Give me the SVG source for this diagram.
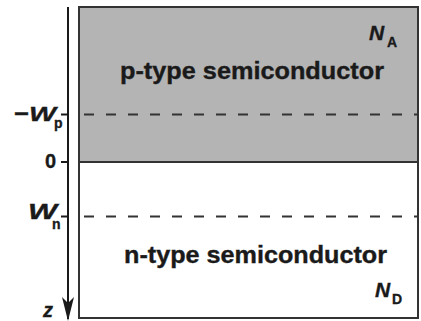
<svg xmlns="http://www.w3.org/2000/svg" width="421" height="321" viewBox="0 0 421 321">
  <style>
    .lbl { font-family: "Liberation Sans", Arial, sans-serif; font-weight: bold; fill: #1a1a1a; stroke: #1a1a1a; stroke-width: 0.35; }
    .it { font-style: italic; }
    .dash { stroke: #333; stroke-width: 2; stroke-dasharray: 10 12; fill: none; }
    .tick { stroke: #1a1a1a; stroke-width: 2; }
  </style>
  <defs>
    <marker id="arrow" markerWidth="24" markerHeight="12" refX="22" refY="6" orient="auto" markerUnits="userSpaceOnUse" viewBox="0 0 24 12">
      <path d="M0,0 L6,6 L0,12 L24,6 Z" fill="#1a1a1a"/>
    </marker>
  </defs>
  <rect width="421" height="321" fill="#fff"/>

  <!-- p-type region -->
  <g id="p-region">
    <rect x="79" y="7" width="339" height="155" fill="#b4b4b4"/>
    <text class="lbl" x="252" y="79" font-size="23" text-anchor="middle" textLength="264" lengthAdjust="spacingAndGlyphs">p-type semiconductor</text>
    <text class="lbl it" x="369" y="40" font-size="21">N</text>
    <text class="lbl" x="387" y="47" font-size="14">A</text>
  </g>

  <!-- n-type region -->
  <g id="n-region">
    <rect x="79" y="162" width="339" height="156" fill="#fff"/>
    <text class="lbl" x="255.5" y="263" font-size="23" text-anchor="middle" textLength="263" lengthAdjust="spacingAndGlyphs">n-type semiconductor</text>
    <text class="lbl it" x="375" y="297" font-size="21">N</text>
    <text class="lbl" x="392" y="304" font-size="14">D</text>
  </g>

  <!-- outline and junction -->
  <g id="outline">
    <rect x="79" y="7" width="339" height="311" fill="none" stroke="#333" stroke-width="2"/>
    <line x1="79" y1="162" x2="418" y2="162" stroke="#333" stroke-width="2"/>
  </g>

  <!-- depletion edges, axis and ticks -->
  <g id="connectors">
    <line class="dash" x1="84" y1="114.5" x2="418" y2="114.5"/>
    <line class="dash" x1="84" y1="216.5" x2="418" y2="216.5"/>
    <line x1="68" y1="7" x2="68" y2="319" stroke="#1a1a1a" stroke-width="2" marker-end="url(#arrow)"/>
    <line class="tick" x1="61" y1="114.5" x2="68" y2="114.5"/>
    <line class="tick" x1="61" y1="162" x2="68" y2="162"/>
    <line class="tick" x1="61" y1="216.5" x2="68" y2="216.5"/>
  </g>

  <!-- axis labels -->
  <g id="axis-labels">
    <text class="lbl" x="14" y="121" font-size="22" textLength="15" lengthAdjust="spacingAndGlyphs">−</text>
    <text class="lbl it" x="29" y="121" font-size="21" textLength="27" lengthAdjust="spacingAndGlyphs">W</text>
    <text class="lbl" x="54" y="128" font-size="14">p</text>
    <text class="lbl" x="45" y="168" font-size="20">0</text>
    <text class="lbl it" x="28" y="219" font-size="22" textLength="29" lengthAdjust="spacingAndGlyphs">W</text>
    <text class="lbl" x="52" y="229" font-size="14">n</text>
    <text class="lbl it" x="43" y="317" font-size="20">z</text>
  </g>
</svg>
